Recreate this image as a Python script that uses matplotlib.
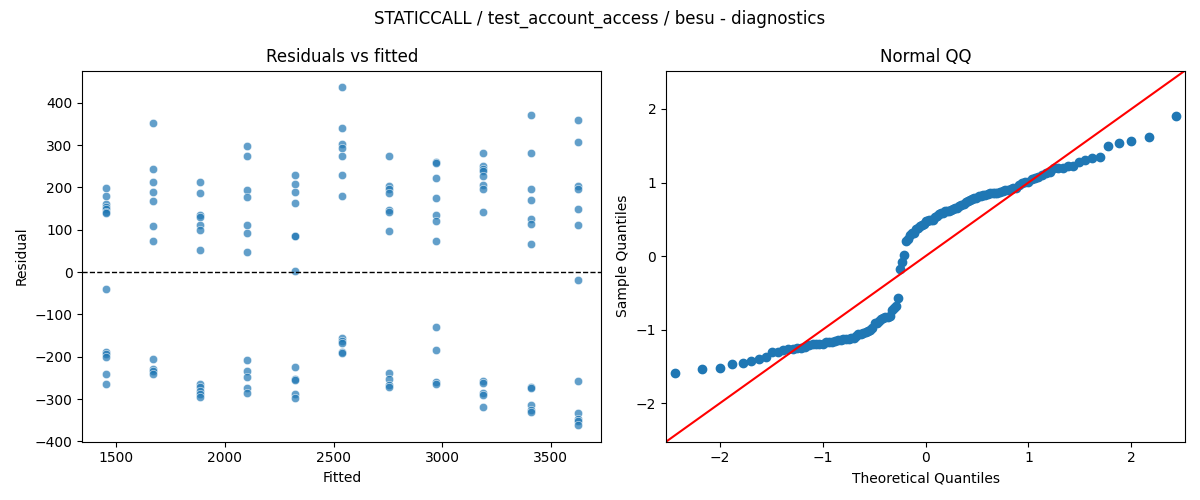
from statistics import NormalDist

import numpy as np
import matplotlib
matplotlib.use("Agg")
import matplotlib.pyplot as plt
import seaborn as sns

# valores ajustados (una columna de puntos por nivel)
fitted_levels = [1452, 1669, 1886, 2103, 2321, 2538, 2755, 2972, 3190, 3407, 3624]

res_1452 = [198, 180, 160, 154, 148, 143, 140, -40, -190, -194, -200, -241, -264]
res_1669 = [351, 243, 212, 189, 167, 108, 73, -206, -228, -234, -240]
res_1886 = [212, 186, 135, 130, 110, 100, 52, -265, -272, -281, -288, -296]
res_2103 = [297, 274, 194, 177, 111, 92, 47, -208, -233, -248, -273, -285]
res_2321 = [229, 208, 189, 163, 86, 84, 3, -224, -253, -256, -288, -298]
res_2538 = [436, 340, 303, 292, 274, 229, 180, -155, -162, -168, -188, -191]
res_2755 = [274, 203, 197, 186, 147, 141, 97, -238, -253, -267, -271]
res_2972 = [261, 258, 222, 175, 134, 120, 73, -130, -184, -259, -265]
res_3190 = [281, 251, 244, 238, 226, 206, 196, 141, -257, -261, -286, -291, -318]
res_3407 = [370, 281, 196, 170, 126, 113, 67, -271, -275, -313, -325, -330]
res_3624 = [358, 307, 204, 197, 149, 111, -19, -257, -333, -347, -351, -361]

columnas = [res_1452, res_1669, res_1886, res_2103, res_2321, res_2538,
            res_2755, res_2972, res_3190, res_3407, res_3624]

fitted = []
resid = []
for nivel, valores in zip(fitted_levels, columnas):
    fitted += [nivel] * len(valores)
    resid += valores
fitted = np.array(fitted, dtype=float)
resid = np.array(resid, dtype=float)

# cuantiles para el QQ (posiciones i/(n+1), residuos / desviacion estandar)
n = len(resid)
teoricos = np.array([NormalDist().inv_cdf(i / (n + 1)) for i in range(1, n + 1)])
muestra = np.sort(resid) / resid.std(ddof=1)

fig, (ax1, ax2) = plt.subplots(1, 2, figsize=(12, 5), dpi=100)

sns.scatterplot(x=fitted, y=resid, alpha=0.7, ax=ax1)
ax1.axhline(0, color="black", linestyle="--", linewidth=1)
ax1.set_title("Residuals vs fitted")
ax1.set_xlabel("Fitted")
ax1.set_ylabel("Residual")

ax2.plot(teoricos, muestra, marker="o", linestyle="none", color="C0")
lim = (-2.52, 2.52)
ax2.plot(lim, lim, color="red")
ax2.set_xlim(lim)
ax2.set_ylim(lim)
ax2.set_title("Normal QQ")
ax2.set_xlabel("Theoretical Quantiles")
ax2.set_ylabel("Sample Quantiles")

fig.suptitle("STATICCALL / test_account_access / besu - diagnostics")
fig.tight_layout()
fig.savefig("out.png")
